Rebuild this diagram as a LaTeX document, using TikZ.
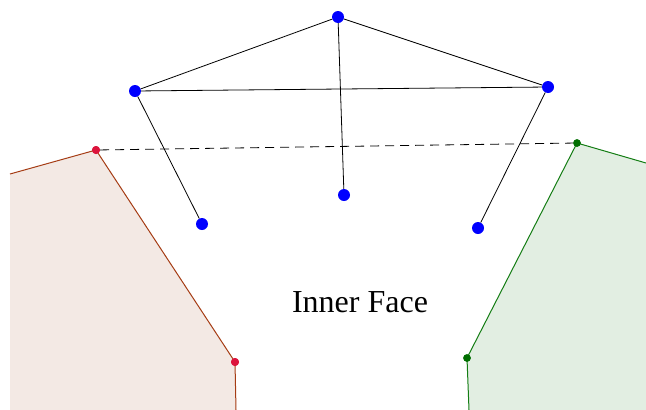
\documentclass[tikz,border=0pt]{standalone}
\usepackage{fontspec}
\setmainfont{Liberation Serif}
\usetikzlibrary{positioning,calc}
\definecolor{crim}{RGB}{220,20,60}
\definecolor{darkgr}{RGB}{0,110,0}
\definecolor{rust}{RGB}{165,60,20}
\definecolor{rustfill}{RGB}{243,233,228}
\definecolor{leaf}{RGB}{20,125,20}
\definecolor{leaffill}{RGB}{226,238,226}
\begin{document}
\begin{tikzpicture}[x=1pt,y=-1pt,
            vert/.style={circle,fill=blue,inner sep=0pt,minimum size=12pt},
            rdot/.style={circle,fill=crim,inner sep=0pt,minimum size=8pt},
            gdot/.style={circle,fill=darkgr,inner sep=0pt,minimum size=7.5pt},
            link/.style={black,line width=0.8pt},
            textbox/.style={font=\fontsize{32}{36}\selectfont}
        ]
            \useasboundingbox (0,0) rectangle (646,410);
            % faces
            \coordinate (L0) at (10,174);
            \coordinate (L3) at (236,410);
            \coordinate (R0) at (646,163);
            \coordinate (R3) at (469,410);
            \fill[rustfill] (L0) -- (96,150) -- (235,362) -- (L3) -- (10,410) -- cycle;
            \fill[leaffill] (R0) -- (577,143) -- (467,358) -- (R3) -- (646,410) -- cycle;
            \node[rdot] (LA) at (96,150) {};
            \node[rdot] (LB) at (235,362) {};
            \node[gdot] (RA) at (577,143) {};
            \node[gdot] (RB) at (467,358) {};
            \draw[rust,line width=1pt] (L0) -- (LA.center) -- (LB.center) -- (L3);
            \draw[leaf,line width=1pt] (R0) -- (RA.center) -- (RB.center) -- (R3);
            \node[rdot] at (LA) {};
            \node[rdot] at (LB) {};
            \node[gdot] at (RA) {};
            \node[gdot] at (RB) {};
            \draw[dashed,link,dash pattern=on 9pt off 6pt] (LA) -- (RA);
            % graph
            \node[vert] (T) at (338,17) {};
            \node[vert] (A) at (135,91) {};
            \node[vert] (B) at (548,87) {};
            \node[vert] (C) at (202,224) {};
            \node[vert] (M) at (344,195) {};
            \node[vert] (D) at (478,228) {};
            \path[link]
                (T) edge (A)
                (T) edge (B)
                (A) edge (B)
                (A) edge (C)
                (T) edge (M)
                (B) edge (D);
            \node[textbox] (F) at (360,302) {Inner Face};
        \end{tikzpicture}
\end{document}
